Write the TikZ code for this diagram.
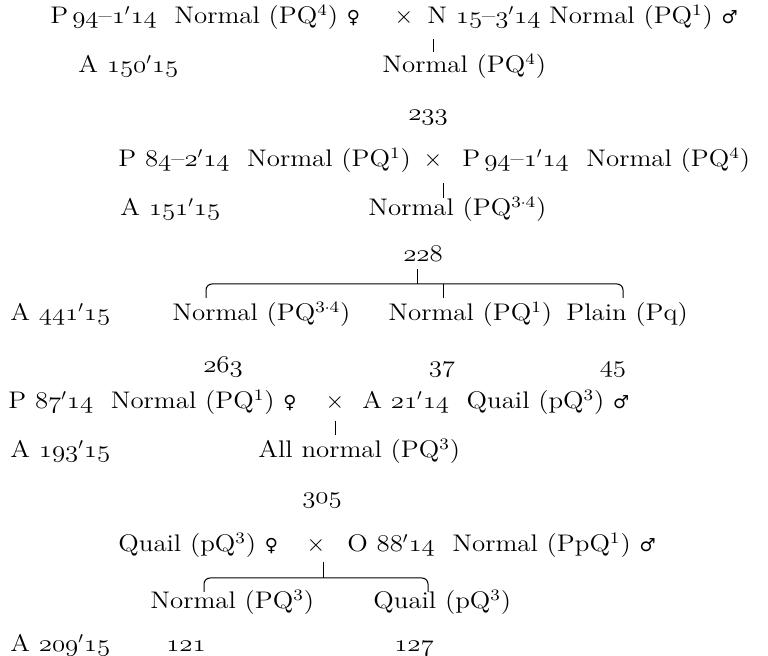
\documentclass[tikz,border=0pt]{standalone}
\usepackage{fontspec}
\usepackage{graphicx}
\setmainfont{Latin Modern Roman}[FakeStretch=1.12]
\newfontfamily\symf{DejaVu Sans}
\newcommand{\osn}[1]{\scalebox{1.12}[1]{\usefont{OML}{cmm}{m}{it}#1}}
\newcommand{\fem}{{\symf\small ♀}}
\newcommand{\mal}{{\symf\small ♂}}
\newcommand{\pq}[1]{(PQ\textsuperscript{#1})}
\newcommand{\yr}[2]{\osn{#1}$'$\osn{#2}}

\begin{document}
\begin{tikzpicture}[
  x=0.5pt,
  y=-0.5pt,
  every node/.style={font=\fontsize{12}{14}\selectfont, inner sep=0pt},
  lab/.style={anchor=base west},
  cnt/.style={anchor=base},
  stem/.style={line width=0.5pt},
  brk/.style={line width=0.5pt, rounded corners=3pt}
]
  \useasboundingbox (0,0) rectangle (768,656);

  % ---- first cross ----
  \node[lab] (f1) at (50,24) {P\,\osn{94}--\yr{1}{14}~ Normal \pq{4} \fem};
  \node[cnt] (x1) at (404,24) {$\times$};
  \node[lab] (m1) at (427,24) {N \osn{15}--\yr{3}{14} Normal \pq{1} \mal};
  \node[lab] (a1) at (78,73) {A \yr{150}{15}};
  \node[lab] (o1) at (382,73) {Normal \pq{4}};
  \node[cnt] (n1) at (428,121) {\osn{233}};
  \coordinate (s1a) at (433,39);
  \coordinate (s1b) at (433,52);
  \draw[stem] (s1a) -- (s1b);

  % ---- second cross ----
  \node[lab] (f2) at (118,167) {P \osn{84}--\yr{2}{14}~ Normal \pq{1}};
  \node[cnt] (x2) at (433,167) {$\times$};
  \node[lab] (m2) at (462,167) {P\,\osn{94}--\yr{1}{14}~ Normal \pq{4}};
  \node[lab] (a2) at (120,216) {A \yr{151}{15}};
  \node[lab] (o2) at (368,216) {Normal \pq{3$\cdot$4}};
  \node[cnt] (n2) at (423,262) {\osn{228}};
  \coordinate (s2a) at (443,183);
  \coordinate (s2b) at (443,198);
  \draw[stem] (s2a) -- (s2b);

  % ---- F2 split ----
  \coordinate (s3a) at (417,269);
  \coordinate (s3b) at (417,284);
  \coordinate (b1l) at (206,284);
  \coordinate (b1r) at (623,284);
  \coordinate (b1m) at (443,298);
  \draw[stem] (s3a) -- (s3b);
  \draw[brk] (206,298) -- (b1l) -- (b1r) -- (623,298);
  \draw[stem] (b1m |- b1l) -- (b1m);
  \node[lab] (a3) at (10,321) {A \yr{441}{15}};
  \node[lab] (c1) at (172,321) {Normal \pq{3$\cdot$4}};
  \node[lab] (c2) at (388,321) {Normal \pq{1}};
  \node[lab] (c3) at (566,321) {Plain (Pq)};
  \node[cnt] (k1) at (223,373) {\osn{263}};
  \node[cnt] (k2) at (442,373) {\osn{37}};
  \node[cnt] (k3) at (613,373) {\osn{45}};

  % ---- third cross ----
  \node[lab] (f3) at (8,409) {P \yr{87}{14}~ Normal \pq{1} \fem};
  \node[cnt] (x3) at (335,409) {$\times$};
  \node[lab] (m3) at (362,409) {A \yr{21}{14}~ Quail (pQ\textsuperscript{3}) \mal};
  \node[lab] (a4) at (10,458) {A \yr{193}{15}};
  \node[lab] (o3) at (258,458) {All normal \pq{3}};
  \node[cnt] (n3) at (322,504) {\osn{305}};
  \coordinate (s4a) at (335,421);
  \coordinate (s4b) at (335,435);
  \draw[stem] (s4a) -- (s4b);

  % ---- back cross ----
  \node[lab] (f4) at (118,552) {Quail (pQ\textsuperscript{3}) \fem};
  \node[cnt] (x4) at (316,552) {$\times$};
  \node[lab] (m4) at (347,552) {O \yr{88}{14}~ Normal (PpQ\textsuperscript{1}) \mal};
  \coordinate (s5a) at (323,562);
  \coordinate (s5b) at (323,578);
  \coordinate (b2l) at (204,578);
  \coordinate (b2r) at (428,578);
  \draw[stem] (s5a) -- (s5b);
  \draw[brk] (204,592) -- (b2l) -- (b2r) -- (428,592);
  \node[lab] (d1) at (150,609) {Normal \pq{3}};
  \node[lab] (d2) at (373,609) {Quail (pQ\textsuperscript{3})};
  \node[lab] (a5) at (10,652) {A \yr{209}{15}};
  \node[cnt] (k4) at (186,652) {\osn{121}};
  \node[cnt] (k5) at (414,652) {\osn{127}};
\end{tikzpicture}
\end{document}
